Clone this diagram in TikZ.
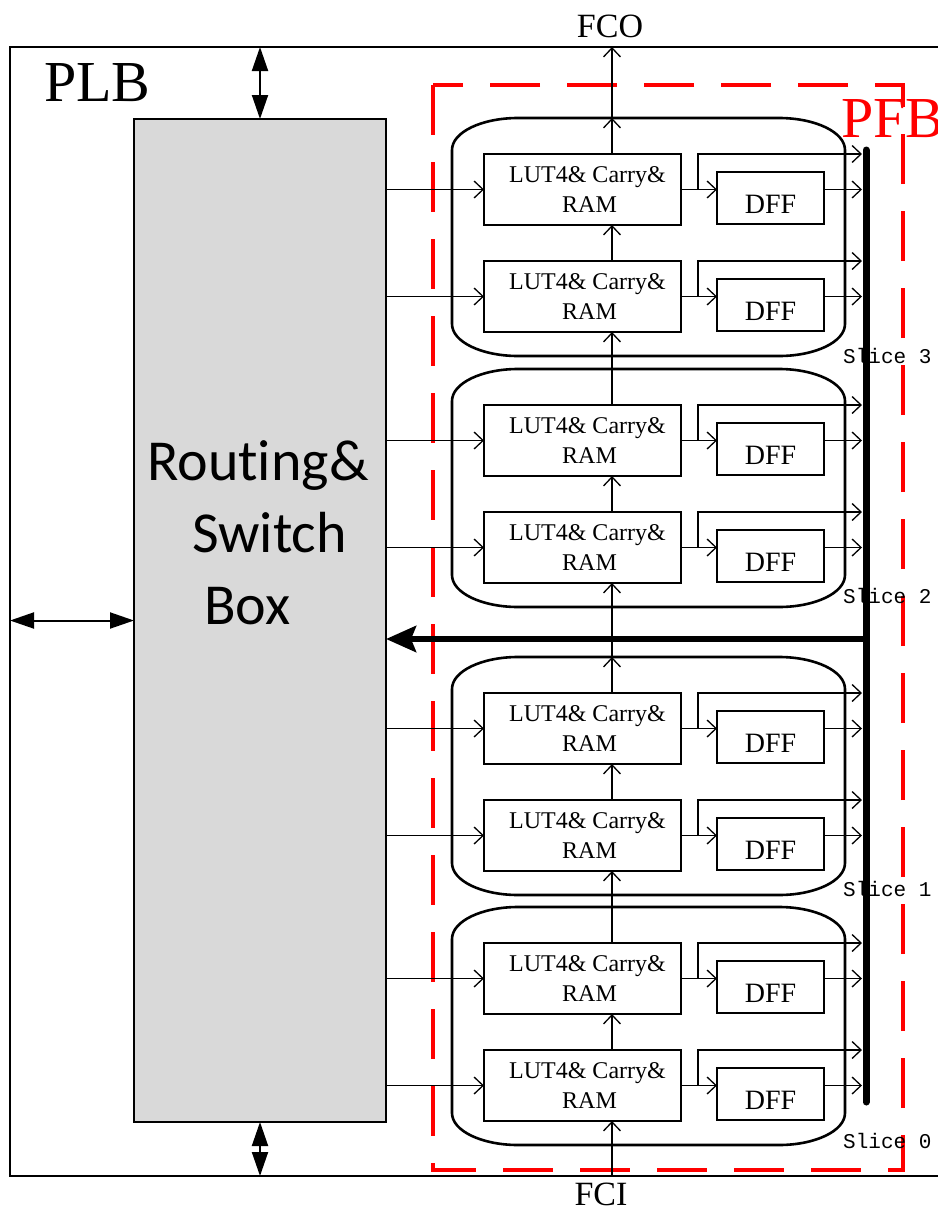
\documentclass[tikz,border=0pt]{standalone}
\usepackage{fontspec}
\setmainfont{Liberation Serif}
\newfontfamily\boxfont{Carlito}[Ligatures=NoCommon]
\newfontfamily\slicefont{Liberation Mono}
\usepackage{tikz}
\usetikzlibrary{arrows.meta,calc}
\definecolor{routegray}{RGB}{217,217,217}
\definecolor{pfbred}{RGB}{255,0,0}
\newcommand{\luttext}{\hspace*{10pt}LUT4\& Carry\&\\\hspace*{14pt}RAM}

\begin{document}
\begin{tikzpicture}[
  x=1pt, y=-1pt,
  wire/.style={line width=1.3pt, -{Straight Barb[length=9pt,width=17pt]}},
  lut/.style={draw, line width=1.3pt, minimum width=197pt, minimum height=71pt,
              inner sep=0pt, outer sep=0pt, align=center, font=\fontsize{24}{30}\selectfont},
  dff/.style={draw, line width=1.3pt, minimum width=107pt, minimum height=52pt,
              inner sep=0pt, outer sep=0pt, text height=30pt, text depth=0pt,
              font=\fontsize{28}{30}\selectfont},
  slicebox/.style={line width=2.6pt},
  biarrow/.style={line width=2pt, {Triangle[length=24pt,width=16pt]}-{Triangle[length=24pt,width=16pt]}}
]
\useasboundingbox (0,0) rectangle (937,1210);

% PFB region
\draw[pfbred, line width=4pt, dash pattern=on 50pt off 27pt] (433,85) rectangle (903,1170);

% PLB frame and routing box
\node[draw, line width=1.3pt, minimum width=960pt, minimum height=1129pt,
      inner sep=0pt, outer sep=0pt, anchor=north west] (plb) at (10,47) {};
\node[draw, line width=1.3pt, fill=routegray, minimum width=252pt, minimum height=1003pt,
      inner sep=0pt, outer sep=0pt] (rsb) at (260,620.5) {};
\node[anchor=north west, align=left, inner sep=0pt,
      font=\boxfont\fontsize{58}{72}\selectfont] (rsbtext) at (147,440)
      {Routing\&\\\hspace*{45pt}Switch\\\hspace*{57pt}Box};

\coordinate (bustop) at (866,150);
\coordinate (busbot) at (866,1102);
\coordinate (busmid) at (866,639);
\coordinate (busL) at (862,0);
\coordinate (fco) at (612,47);
\coordinate (fci) at (612,1176);

% slices
\foreach \s/\t/\l in {3/118/363, 2/369/603, 1/657/896, 0/907/1148} {
  \draw[slicebox] (452,\t+32) .. controls (452,\t+14) and (482,\t) .. (518,\t)
    -- (779,\t) .. controls (815,\t) and (845,\t+14) .. (845,\t+32)
    -- (845,\t+206) .. controls (845,\t+224) and (815,\t+238) .. (779,\t+238)
    -- (518,\t+238) .. controls (482,\t+238) and (452,\t+224) .. (452,\t+206) -- cycle;
  \coordinate (slice\s) at (612,\t);
  \node[anchor=base west, inner sep=0pt, font=\slicefont\fontsize{21}{21}\selectfont]
    (label\s) at (843,\l) {Slice \s};
  \foreach \r/\dy in {a/0, b/107} {
    \node[lut] (lut\s\r) at (582.5,\t+71.5+\dy) {\luttext};
    \node[dff] (dff\s\r) at (770.5,\t+80+\dy) {DFF};
    \draw[wire] (rsb.east |- lut\s\r.west) -- (lut\s\r.west);
    \draw[wire] (lut\s\r.east) -- (dff\s\r.west |- lut\s\r.east);
    \draw[wire] ($(lut\s\r.east)+(17,0)$) |- (busL |- lut\s\r.north);
    \draw[wire] (dff\s\r.east |- lut\s\r.east) -- (busL |- lut\s\r.east);
  }
  \draw[wire] (lut\s b.north -| fco) -- (lut\s a.south -| fco);
}

% carry chain
\draw[wire] (fci) -- (lut0b.south -| fco);
\draw[wire] (lut0a.north -| fco) -- (lut1b.south -| fco);
\draw[wire] (lut1a.north -| fco) -- (slice1);
\draw[wire] (slice1) -- (lut2b.south -| fco);
\draw[wire] (lut2a.north -| fco) -- (lut3b.south -| fco);
\draw[wire] (lut3a.north -| fco) -- (slice3);
\draw[wire] (slice3) -- (fco);

% bus and feedback
\draw[line width=7pt, line cap=round] (bustop) -- (busbot);
\draw[line width=6pt, -{Stealth[length=30pt,width=26pt,inset=5pt]}] (busmid) -- (rsb.east |- busmid);

% routing ports
\draw[biarrow] (rsb.north) -- (rsb.north |- plb.north);
\draw[biarrow] (rsb.south) -- (rsb.south |- plb.south);
\draw[biarrow] (plb.west |- rsb.west) -- (rsb.west);

% labels
\node[anchor=base west, inner sep=0pt, font=\fontsize{58}{58}\selectfont] (plbtext) at (44,101) {PLB};
\node[anchor=base west, inner sep=0pt, text=pfbred, font=\fontsize{58}{58}\selectfont] (pfbtext) at (841,137) {PFB};
\node[anchor=base, inner sep=0pt, font=\fontsize{34}{34}\selectfont] (fcotext) at (610,37) {FCO};
\node[anchor=base, inner sep=0pt, font=\fontsize{34}{34}\selectfont] (fcitext) at (601,1205) {FCI};
\end{tikzpicture}
\end{document}
